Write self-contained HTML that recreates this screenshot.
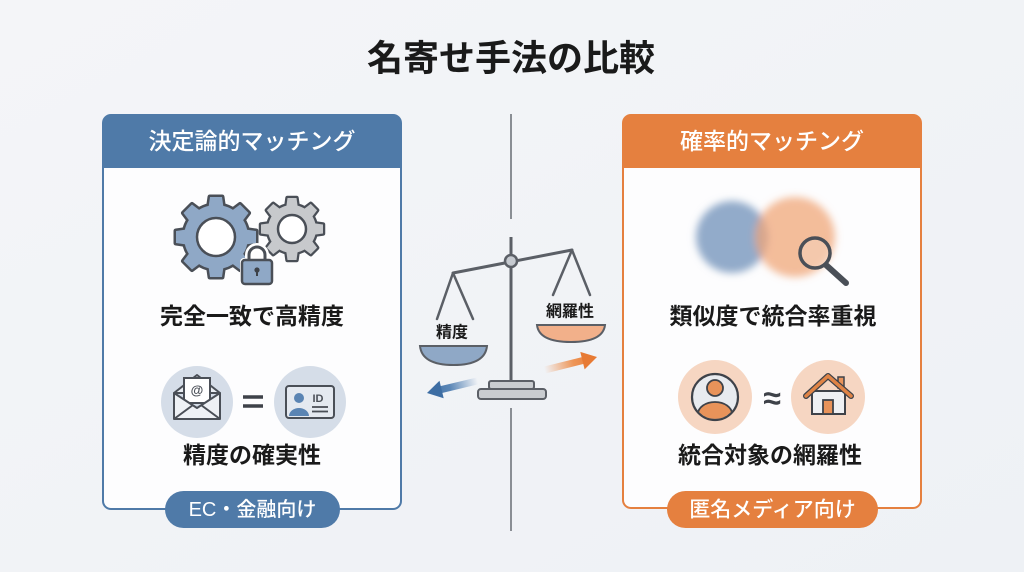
<!DOCTYPE html>
<html lang="ja">
<head>
<meta charset="utf-8">
<style>
  html,body{margin:0;padding:0;width:1024px;height:572px;overflow:hidden;background:#f2f4f7;}
  svg{display:block;}
  text{font-family:"Liberation Sans","Noto Sans CJK JP",sans-serif;}
</style>
</head>
<body>
<svg width="1024" height="572" viewBox="0 0 1024 572" xmlns="http://www.w3.org/2000/svg">
  <defs>
    <linearGradient id="bg" x1="0" y1="0" x2="1" y2="1">
      <stop offset="0" stop-color="#f4f5f8"/>
      <stop offset="1" stop-color="#eef1f5"/>
    </linearGradient>
    <filter id="blur" x="-40%" y="-40%" width="180%" height="180%">
      <feGaussianBlur stdDeviation="4"/>
    </filter>
    <linearGradient id="gBlue" gradientUnits="userSpaceOnUse" x1="0" y1="0" x2="52" y2="0">
      <stop offset="0" stop-color="#3d6da3"/>
      <stop offset="0.45" stop-color="#5a86b6"/>
      <stop offset="1" stop-color="#5a86b6" stop-opacity="0"/>
    </linearGradient>
    <linearGradient id="gOrange" gradientUnits="userSpaceOnUse" x1="0" y1="0" x2="54" y2="0">
      <stop offset="0" stop-color="#e77a34"/>
      <stop offset="0.45" stop-color="#ee9557"/>
      <stop offset="1" stop-color="#ee9557" stop-opacity="0"/>
    </linearGradient>
    <clipPath id="avClip"><circle cx="715" cy="397" r="22"/></clipPath>
    <clipPath id="idClip"><rect x="287" y="387" width="46" height="30" rx="2"/></clipPath>
  </defs>

  <rect x="0" y="0" width="1024" height="572" fill="url(#bg)"/>

  <!-- Title -->
  <text x="511" y="58" text-anchor="middle" dominant-baseline="central" font-size="36" font-weight="700" fill="#1a1a1a">名寄せ手法の比較</text>

  <!-- Divider -->
  <line x1="511" y1="114" x2="511" y2="219" stroke="#8a8e94" stroke-width="2"/>
  <line x1="511" y1="408" x2="511" y2="531" stroke="#8a8e94" stroke-width="2"/>

  <!-- LEFT CARD -->
  <rect x="103" y="115" width="298" height="394" rx="8" fill="#fdfdfe" stroke="#4f7aa8" stroke-width="2"/>
  <path d="M103,168 L103,123 Q103,115 111,115 L393,115 Q401,115 401,123 L401,168 Z" fill="#4f7aa8"/>
  <text x="252" y="141" text-anchor="middle" dominant-baseline="central" font-size="23" font-weight="500" fill="#ffffff">決定論的マッチング</text>

  <!-- Big gear -->
  <g stroke="#4a4f57" stroke-width="5" fill="#4a4f57" stroke-linejoin="round">
    <circle cx="216" cy="237" r="32"/>
    <path d="M210,197 L222,197 L224,211 L208,211 Z" transform="rotate(0 216 237)"/>
    <path d="M210,197 L222,197 L224,211 L208,211 Z" transform="rotate(45 216 237)"/>
    <path d="M210,197 L222,197 L224,211 L208,211 Z" transform="rotate(90 216 237)"/>
    <path d="M210,197 L222,197 L224,211 L208,211 Z" transform="rotate(135 216 237)"/>
    <path d="M210,197 L222,197 L224,211 L208,211 Z" transform="rotate(180 216 237)"/>
    <path d="M210,197 L222,197 L224,211 L208,211 Z" transform="rotate(225 216 237)"/>
    <path d="M210,197 L222,197 L224,211 L208,211 Z" transform="rotate(270 216 237)"/>
    <path d="M210,197 L222,197 L224,211 L208,211 Z" transform="rotate(315 216 237)"/>
  </g>
  <g fill="#8fa8c6">
    <circle cx="216" cy="237" r="32"/>
    <path d="M210,197 L222,197 L224,211 L208,211 Z" transform="rotate(0 216 237)"/>
    <path d="M210,197 L222,197 L224,211 L208,211 Z" transform="rotate(45 216 237)"/>
    <path d="M210,197 L222,197 L224,211 L208,211 Z" transform="rotate(90 216 237)"/>
    <path d="M210,197 L222,197 L224,211 L208,211 Z" transform="rotate(135 216 237)"/>
    <path d="M210,197 L222,197 L224,211 L208,211 Z" transform="rotate(180 216 237)"/>
    <path d="M210,197 L222,197 L224,211 L208,211 Z" transform="rotate(225 216 237)"/>
    <path d="M210,197 L222,197 L224,211 L208,211 Z" transform="rotate(270 216 237)"/>
    <path d="M210,197 L222,197 L224,211 L208,211 Z" transform="rotate(315 216 237)"/>
  </g>
  <circle cx="216" cy="237" r="19" fill="#ffffff" stroke="#4a4f57" stroke-width="2.5"/>

  <!-- Small gear -->
  <g stroke="#4a4f57" stroke-width="4.5" fill="#4a4f57" stroke-linejoin="round">
    <circle cx="292" cy="229" r="24"/>
    <path d="M287.5,198 L296.5,198 L298,209 L286,209 Z" transform="rotate(0 292 229)"/>
    <path d="M287.5,198 L296.5,198 L298,209 L286,209 Z" transform="rotate(45 292 229)"/>
    <path d="M287.5,198 L296.5,198 L298,209 L286,209 Z" transform="rotate(90 292 229)"/>
    <path d="M287.5,198 L296.5,198 L298,209 L286,209 Z" transform="rotate(135 292 229)"/>
    <path d="M287.5,198 L296.5,198 L298,209 L286,209 Z" transform="rotate(180 292 229)"/>
    <path d="M287.5,198 L296.5,198 L298,209 L286,209 Z" transform="rotate(225 292 229)"/>
    <path d="M287.5,198 L296.5,198 L298,209 L286,209 Z" transform="rotate(270 292 229)"/>
    <path d="M287.5,198 L296.5,198 L298,209 L286,209 Z" transform="rotate(315 292 229)"/>
  </g>
  <g fill="#c7c9cc">
    <circle cx="292" cy="229" r="24"/>
    <path d="M287.5,198 L296.5,198 L298,209 L286,209 Z" transform="rotate(0 292 229)"/>
    <path d="M287.5,198 L296.5,198 L298,209 L286,209 Z" transform="rotate(45 292 229)"/>
    <path d="M287.5,198 L296.5,198 L298,209 L286,209 Z" transform="rotate(90 292 229)"/>
    <path d="M287.5,198 L296.5,198 L298,209 L286,209 Z" transform="rotate(135 292 229)"/>
    <path d="M287.5,198 L296.5,198 L298,209 L286,209 Z" transform="rotate(180 292 229)"/>
    <path d="M287.5,198 L296.5,198 L298,209 L286,209 Z" transform="rotate(225 292 229)"/>
    <path d="M287.5,198 L296.5,198 L298,209 L286,209 Z" transform="rotate(270 292 229)"/>
    <path d="M287.5,198 L296.5,198 L298,209 L286,209 Z" transform="rotate(315 292 229)"/>
  </g>
  <circle cx="292" cy="229" r="14" fill="#ffffff" stroke="#4a4f57" stroke-width="2.5"/>

  <!-- Lock -->
  <path d="M249,262 v-7 a8,8 0 0 1 16,0 v7" fill="none" stroke="#ffffff" stroke-width="8"/>
  <rect x="240" y="258" width="34" height="28" rx="4" fill="#ffffff"/>
  <path d="M249,262 v-7 a8,8 0 0 1 16,0 v7" fill="none" stroke="#4a4f57" stroke-width="3"/>
  <rect x="242" y="260" width="30" height="24" rx="3" fill="#8fa8c6" stroke="#4a4f57" stroke-width="2.5"/>
  <circle cx="257" cy="270" r="2.6" fill="#3d4148"/>
  <rect x="256" y="271" width="2" height="5" fill="#3d4148"/>

  <text x="252" y="316" text-anchor="middle" dominant-baseline="central" font-size="23" font-weight="700" fill="#1a1a1a">完全一致で高精度</text>

  <!-- Envelope icon -->
  <circle cx="197" cy="402" r="36" fill="#d5dde8"/>
  <polygon points="174,393 197,375 220,393" fill="#e9edf2" stroke="#4a4f57" stroke-width="2" stroke-linejoin="round"/>
  <rect x="184" y="378" width="26" height="25" fill="#ffffff" stroke="#4a4f57" stroke-width="2"/>
  <text x="197" y="390" text-anchor="middle" dominant-baseline="central" font-size="13" font-weight="700" fill="#4a4f57">@</text>
  <path d="M174,393 L197,408 L220,393 L220,419 L174,419 Z" fill="#eef1f5" stroke="#4a4f57" stroke-width="2" stroke-linejoin="round"/>
  <path d="M174,419 L193,405 M220,419 L201,405" stroke="#4a4f57" stroke-width="2" fill="none"/>

  <!-- = -->
  <line x1="243" y1="397" x2="263" y2="397" stroke="#3e4249" stroke-width="3.5"/>
  <line x1="243" y1="406" x2="263" y2="406" stroke="#3e4249" stroke-width="3.5"/>

  <!-- ID card icon -->
  <circle cx="310" cy="402" r="36" fill="#d5dde8"/>
  <rect x="286" y="386" width="48" height="32" rx="3" fill="#e4e9f0" stroke="#4a4f57" stroke-width="2"/>
  <g clip-path="url(#idClip)">
    <circle cx="299" cy="398" r="5" fill="#5a84b3"/>
    <path d="M289,416 a10,8 0 0 1 20,0 Z" fill="#5a84b3"/>
  </g>
  <text x="318" y="399" text-anchor="middle" dominant-baseline="central" font-size="11" font-weight="700" fill="#4a4f57">ID</text>
  <line x1="312" y1="407" x2="328" y2="407" stroke="#4a4f57" stroke-width="1.8"/>
  <line x1="312" y1="411.5" x2="328" y2="411.5" stroke="#4a4f57" stroke-width="1.8"/>

  <text x="252" y="455" text-anchor="middle" dominant-baseline="central" font-size="23" font-weight="700" fill="#1a1a1a">精度の確実性</text>

  <!-- Left badge -->
  <rect x="165" y="491" width="175" height="37" rx="18.5" fill="#4f7aa8"/>
  <text x="252.5" y="510" text-anchor="middle" dominant-baseline="central" font-size="20" font-weight="500" fill="#ffffff">EC・金融向け</text>

  <!-- RIGHT CARD -->
  <rect x="623" y="115" width="298" height="393" rx="8" fill="#fdfdfe" stroke="#e5803f" stroke-width="2"/>
  <path d="M623,168 L623,123 Q623,115 631,115 L913,115 Q921,115 921,123 L921,168 Z" fill="#e5803f"/>
  <text x="772" y="141" text-anchor="middle" dominant-baseline="central" font-size="23" font-weight="500" fill="#ffffff">確率的マッチング</text>

  <!-- Venn -->
  <g filter="url(#blur)">
    <circle cx="732" cy="237" r="36" fill="#86a2c4" opacity="0.9"/>
    <circle cx="795" cy="237" r="40" fill="#f0a474" opacity="0.72"/>
  </g>
  <!-- Magnifier -->
  <line x1="826" y1="265" x2="846" y2="283" stroke="#4a4f57" stroke-width="6" stroke-linecap="round"/>
  <circle cx="815" cy="253" r="15" fill="#f6d3bd" fill-opacity="0.5" stroke="#4a4f57" stroke-width="3.5"/>

  <text x="773" y="316" text-anchor="middle" dominant-baseline="central" font-size="23" font-weight="700" fill="#1a1a1a">類似度で統合率重視</text>

  <!-- Person icon -->
  <circle cx="715" cy="397" r="37" fill="#f6d6c2"/>
  <circle cx="715" cy="397" r="23" fill="#e8ebef"/>
  <g clip-path="url(#avClip)">
    <path d="M698,422 L698,414 a17,12 0 0 1 34,0 L732,422 Z" fill="#e8935a" stroke="#3e4249" stroke-width="1.8"/>
  </g>
  <circle cx="715" cy="388" r="8" fill="#e8935a" stroke="#3e4249" stroke-width="1.8"/>
  <circle cx="715" cy="397" r="23" fill="none" stroke="#3e4249" stroke-width="2.2"/>

  <!-- ≈ -->
  <text x="772" y="398" text-anchor="middle" dominant-baseline="central" font-size="32" font-weight="700" fill="#3e4249">≈</text>

  <!-- House icon -->
  <circle cx="828" cy="397" r="37" fill="#f6d6c2"/>
  <rect x="838" y="377" width="6" height="11" fill="#e8935a" stroke="#3e4249" stroke-width="1.5"/>
  <rect x="812" y="391" width="33" height="23" fill="#eef0f3" stroke="#3e4249" stroke-width="2"/>
  <rect x="823" y="400" width="10" height="14" fill="#e8935a" stroke="#3e4249" stroke-width="1.8"/>
  <polyline points="806,396 828,376 851,396" fill="none" stroke="#3e4249" stroke-width="6" stroke-linejoin="round" stroke-linecap="round"/>
  <polyline points="806,396 828,376 851,396" fill="none" stroke="#e08446" stroke-width="3.5" stroke-linejoin="round" stroke-linecap="round"/>

  <text x="770" y="455" text-anchor="middle" dominant-baseline="central" font-size="23" font-weight="700" fill="#1a1a1a">統合対象の網羅性</text>

  <!-- Right badge -->
  <rect x="667" y="491" width="211" height="37" rx="18.5" fill="#e5803f"/>
  <text x="772.5" y="510" text-anchor="middle" dominant-baseline="central" font-size="21" font-weight="500" fill="#ffffff">匿名メディア向け</text>

  <!-- SCALE -->
  <line x1="511" y1="237" x2="511" y2="383" stroke="#5b5f66" stroke-width="3"/>
  <line x1="453" y1="273" x2="572" y2="250" stroke="#5b5f66" stroke-width="3" stroke-linecap="round"/>
  <line x1="453" y1="273" x2="437" y2="319" stroke="#5b5f66" stroke-width="2.5" stroke-linecap="round"/>
  <line x1="453" y1="273" x2="473" y2="319" stroke="#5b5f66" stroke-width="2.5" stroke-linecap="round"/>
  <line x1="572" y1="250" x2="553" y2="295" stroke="#5b5f66" stroke-width="2.5" stroke-linecap="round"/>
  <line x1="572" y1="250" x2="590" y2="295" stroke="#5b5f66" stroke-width="2.5" stroke-linecap="round"/>
  <circle cx="511" cy="261" r="6" fill="#c6cad0" stroke="#5b5f66" stroke-width="2.5"/>

  <text x="452" y="333" text-anchor="middle" dominant-baseline="central" font-size="16" font-weight="700" fill="#1a1a1a">精度</text>
  <path d="M420,346 L487,346 Q485,365 453.5,365 Q422,365 420,346 Z" fill="#8fa8c6" stroke="#5b5f66" stroke-width="2"/>

  <text x="570" y="312" text-anchor="middle" dominant-baseline="central" font-size="16" font-weight="700" fill="#1a1a1a">網羅性</text>
  <path d="M537,325 L605,325 Q603,342 571,342 Q539,342 537,325 Z" fill="#f2b08a" stroke="#5b5f66" stroke-width="2"/>

  <rect x="489" y="381" width="45" height="8" rx="2" fill="#c9ccd0" stroke="#5b5f66" stroke-width="2"/>
  <rect x="478" y="389" width="68" height="10" rx="3" fill="#c9ccd0" stroke="#5b5f66" stroke-width="2"/>

  <!-- arrows -->
  <g transform="translate(427,393) rotate(-13.5)">
    <rect x="12" y="-3.5" width="40" height="7" fill="url(#gBlue)"/>
    <polygon points="0,0 15,-9 15,9" fill="#3d6da3"/>
  </g>
  <g transform="translate(597,357) rotate(166)">
    <rect x="12" y="-3.5" width="42" height="7" fill="url(#gOrange)"/>
    <polygon points="0,0 15,-9 15,9" fill="#e77a34"/>
  </g>
</svg>
</body>
</html>
